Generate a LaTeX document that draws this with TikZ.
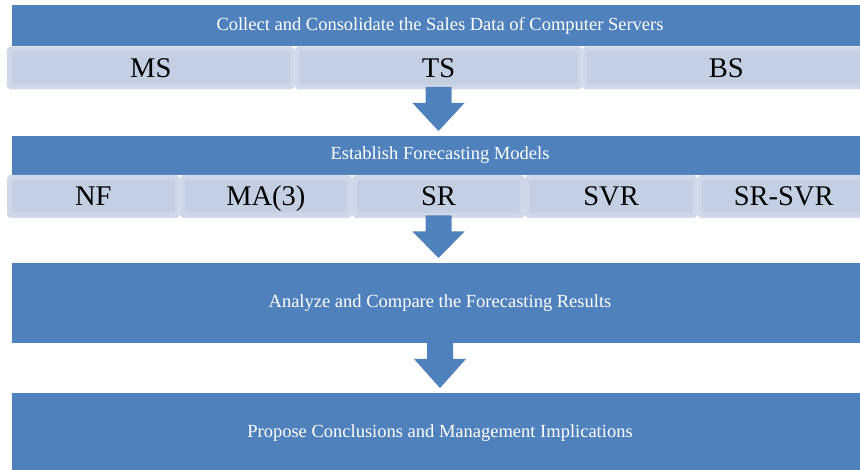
\documentclass[tikz,border=0pt]{standalone}
\usepackage{fontspec}
\setmainfont{Liberation Serif}
\usepackage{xcolor}
\usepackage{tikz}
\usetikzlibrary{calc}

\definecolor{stageblue}{RGB}{79,129,189}
\definecolor{itemfill}{RGB}{196,207,227}
\definecolor{itemedge}{RGB}{207,215,232}

\tikzset{
  stage/.style={fill=stageblue, text=white, inner sep=0pt, outer sep=0pt, minimum width=856pt, font=\fontsize{18.5}{22}\selectfont},
  item/.style={fill=itemfill, draw=itemedge, line width=5pt, rounded corners=1.5pt, inner sep=0pt, outer sep=0pt, minimum height=38pt, text height=19pt, text depth=0pt, font=\fontsize{28.5}{32}\selectfont}
}

% block arrow from the bottom of #1 down to the top of #2
\newcommand{\flowarrow}[2]{%
  \fill[stageblue] ($(#1.south)+(-13,0)$) -- ($(#1.south)+(13,0)$) -- ($(#1.south)+(13,16)$) -- ($(#1.south)+(26,16)$)
    -- ($(#1.south |- #2.north)+(0,-5)$) -- ($(#1.south)+(-26,16)$) -- ($(#1.south)+(-13,16)$) -- cycle;
}

\begin{document}
\begin{tikzpicture}[x=1pt, y=-1pt]
\useasboundingbox (0,0) rectangle (860,470);

% Draw the stages
\node[stage, minimum height=41pt] (collect) at (440,25.5) {Collect and Consolidate the Sales Data of Computer Servers};
\node[stage, minimum height=39pt] (establish) at (440,155.5) {Establish Forecasting Models};
\node[stage, minimum height=80pt] (analyze) at (440,303) {Analyze and Compare the Forecasting Results};
\node[stage, minimum height=80pt] (propose) at (440,433) {Propose Conclusions and Management Implications};

% Draw the data sets
\foreach \lbl [count=\i from 0] in {MS,TS,BS}
{
  \node[item, minimum width=282.7pt] (data\i) at (150.8+\i*287.7,68) {\lbl};
}

% Draw the models
\foreach \lbl [count=\i from 0] in {NF,MA(3),SR,SVR,SR-SVR}
{
  \node[item, minimum width=167.6pt] (model\i) at (93.3+\i*172.6,196.5) {\lbl};
}

% Draw the arrows
\flowarrow{data1}{establish}
\flowarrow{model2}{analyze}
\flowarrow{analyze}{propose}

\end{tikzpicture}
\end{document}
